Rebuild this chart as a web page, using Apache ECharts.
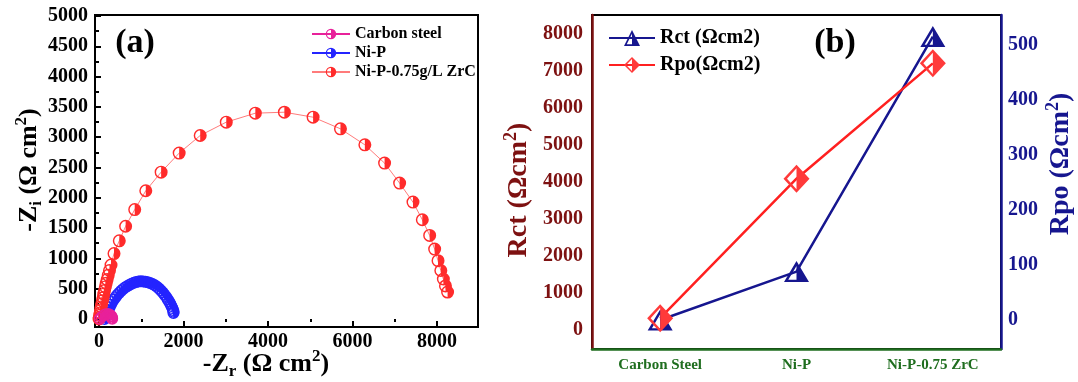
<!DOCTYPE html>
<html><head><meta charset="utf-8">
<script src="https://cdn.jsdelivr.net/npm/echarts@6/dist/echarts.min.js"></script>
<style>html,body{margin:0;padding:0;background:#fff}#c{width:1078px;height:382px}</style>
</head><body><div id="c"></div>
<script>
// ---------- Panel (a): Nyquist data  [-Zr, -Zi] ----------
const carbonSteel = [[20,5],[60,35],[110,62],[165,80],[220,82],[265,68],[295,45],[310,20],[312,5]];
const niP = [[130,0],[150,35],[170,70],[195,110],[220,150],[250,195],[280,235],[315,280],[350,320],[390,360],[430,395],[475,430],[520,462],[565,490],[615,518],[665,542],[715,562],[770,582],[825,598],[880,610],[935,618],[990,621],[1045,620],[1100,615],[1155,607],[1210,595],[1265,578],[1320,556],[1370,532],[1420,503],[1465,472],[1510,438],[1550,402],[1590,365],[1625,327],[1658,290],[1688,252],[1712,215],[1735,180],[1752,148],[1765,120],[1762,98]];
const niPZrC = [[0,0],[8,25],[16,60],[26,100],[38,150],[50,200],[64,250],[80,300],[96,350],[112,410],[130,470],[150,530],[170,590],[192,650],[218,720],[248,800],[284,890],[355,1080],[480,1290],[630,1530],[845,1805],[1107,2116],[1470,2423],[1897,2737],[2395,3028],[3012,3248],[3700,3396],[4387,3412],[5067,3330],[5715,3138],[6292,2874],[6759,2572],[7115,2242],[7431,1929],[7652,1638],[7826,1379],[7944,1154],[8024,962],[8090,800],[8150,660],[8200,545],[8250,445]];
const aXTicks = [0,2000,4000,6000,8000];
const aXMinor = [1000,3000,5000,7000];
const aYTicks = [0,500,1000,1500,2000,2500,3000,3500,4000,4500,5000];
const aYMinor = [250,750,1250,1750,2250,2750,3250,3750,4250,4750];

// ---------- Panel (b) ----------
const categories = ['Carbon Steel','Ni-P','Ni-P-0.75 ZrC'];
const rct = [270, 1578, 7930];
const rpo = [3, 257, 467];
const bLTicks = [0,1000,2000,3000,4000,5000,6000,7000,8000];
const bLMinor = [500,1500,2500,3500,4500,5500,6500,7500];
const bRTicks = [0,100,200,300,400,500];
const bRMinor = [50,150,250,350,450];

const FF = 'Liberation Serif';
const halfCircle = 'path://M0,10A10,10 0 1,1 20,10A10,10 0 1,1 0,10Z M2.2,10A7.8,7.8 0 1,0 17.8,10A7.8,7.8 0 1,0 2.2,10Z M10,2.2A7.8,7.8 0 0,1 10,17.8Z';
const halfTri = 'path://M10,0L20,18L0,18Z M10,4.1L3.4,16L16.6,16Z M10,4.1L16.6,16L10,16Z';
const halfDia = 'path://M10,0L20,11L10,22L0,11Z M10,2.7L2.7,11L10,19.3L17.3,11Z M10,2.7L17.3,11L10,19.3Z';

const DARKRED = '#7d1111', NAVY = '#16168f', GREEN = '#1f6e1f';
const plain = v => String(v);

function valAxis(o) {
  return Object.assign({
    type: 'value', splitLine: {show: false},
    axisLine: {show: true, onZero: false, lineStyle: {color: '#000', width: 2}},
  }, o);
}

const chart = echarts.init(document.getElementById('c'), null, {renderer: 'canvas'});
chart.setOption({
  backgroundColor: '#fff',
  animation: false,
  grid: [
    {left: 95, right: 600, top: 15, bottom: 55, show: true, borderColor: '#000', borderWidth: 2, backgroundColor: 'transparent'},
    {left: 592, right: 77, top: 15, bottom: 33, show: true, borderColor: '#000', borderWidth: 2, backgroundColor: 'transparent'}
  ],
  xAxis: [
    valAxis({gridIndex: 0, min: -95, max: 8970,
      axisTick: {inside: true, length: 6, customValues: aXTicks, lineStyle: {color: '#000', width: 2}},
      axisLabel: {customValues: aXTicks, formatter: plain, margin: 5, color: '#000', fontFamily: FF, fontWeight: 'bold', fontSize: 20}}),
    valAxis({gridIndex: 0, min: -95, max: 8970, axisLine: {show: false},
      axisTick: {inside: true, length: 3, customValues: aXMinor, lineStyle: {color: '#000', width: 2}},
      axisLabel: {show: false}}),
    {type: 'category', gridIndex: 1, data: categories, boundaryGap: true,
      axisLine: {onZero: false, lineStyle: {color: GREEN, width: 2.5}},
      axisTick: {alignWithLabel: true, length: 5, lineStyle: {color: GREEN, width: 2}},
      axisLabel: {color: GREEN, fontFamily: FF, fontWeight: 'bold', fontSize: 15, margin: 9}}
  ],
  yAxis: [
    valAxis({gridIndex: 0, min: -132, max: 5016,
      axisTick: {inside: true, length: 6, customValues: aYTicks, lineStyle: {color: '#000', width: 2}},
      axisLabel: {customValues: aYTicks, formatter: plain, margin: 7, color: '#000', fontFamily: FF, fontWeight: 'bold', fontSize: 20}}),
    valAxis({gridIndex: 0, min: -132, max: 5016, axisLine: {show: false},
      axisTick: {inside: true, length: 3, customValues: aYMinor, lineStyle: {color: '#000', width: 2}},
      axisLabel: {show: false}}),
    valAxis({gridIndex: 1, position: 'left', min: -514, max: 8514,
      axisLine: {show: true, onZero: false, lineStyle: {color: DARKRED, width: 2.5}},
      axisTick: {inside: true, length: 6, customValues: bLTicks, lineStyle: {color: DARKRED, width: 2}},
      axisLabel: {customValues: bLTicks, formatter: plain, margin: 9, color: DARKRED, fontFamily: FF, fontWeight: 'bold', fontSize: 20}}),
    valAxis({gridIndex: 1, position: 'left', min: -514, max: 8514, axisLine: {show: false},
      axisTick: {inside: true, length: 3, customValues: bLMinor, lineStyle: {color: DARKRED, width: 2}},
      axisLabel: {show: false}}),
    valAxis({gridIndex: 1, position: 'right', min: -53, max: 555,
      axisLine: {show: true, onZero: false, lineStyle: {color: NAVY, width: 2.5}},
      axisTick: {inside: true, length: 6, customValues: bRTicks, lineStyle: {color: NAVY, width: 2}},
      axisLabel: {customValues: bRTicks, formatter: plain, margin: 7, color: NAVY, fontFamily: FF, fontWeight: 'bold', fontSize: 20}}),
    valAxis({gridIndex: 1, position: 'right', min: -53, max: 555, axisLine: {show: false},
      axisTick: {inside: true, length: 3, customValues: bRMinor, lineStyle: {color: NAVY, width: 2}},
      axisLabel: {show: false}})
  ],
  legend: [
    {orient: 'vertical', left: 306, top: 21, itemWidth: 38, itemHeight: 13, itemGap: 3,
      data: ['Carbon steel','Ni-P','Ni-P-0.75g/L ZrC'],
      textStyle: {color: '#000', fontFamily: FF, fontWeight: 'bold', fontSize: 16}},
    {orient: 'vertical', left: 603, top: 23, itemWidth: 46, itemHeight: 20, itemGap: 7,
      data: ['Rct (Ωcm2)','Rpo(Ωcm2)'],
      textStyle: {color: '#000', fontFamily: FF, fontWeight: 'bold', fontSize: 20}}
  ],
  series: [
    {name: 'Ni-P', type: 'line', xAxisIndex: 0, yAxisIndex: 0, data: niP,
      symbol: halfCircle, symbolSize: 12, itemStyle: {color: '#2424ff'},
      lineStyle: {color: '#2424ff', width: 1}},
    {name: 'Ni-P-0.75g/L ZrC', type: 'line', xAxisIndex: 0, yAxisIndex: 0, data: niPZrC,
      symbol: halfCircle, symbolSize: 13, itemStyle: {color: '#ff2b2b'},
      lineStyle: {color: '#ff7b7b', width: 1}},
    {name: 'Carbon steel', type: 'line', xAxisIndex: 0, yAxisIndex: 0, data: carbonSteel,
      symbol: halfCircle, symbolSize: 12, itemStyle: {color: '#e8219a'},
      lineStyle: {color: '#e8219a', width: 1}},
    {name: 'Rct (Ωcm2)', type: 'line', xAxisIndex: 2, yAxisIndex: 2, data: rct,
      symbol: halfTri, symbolSize: [25, 21], itemStyle: {color: NAVY},
      lineStyle: {color: NAVY, width: 2.5}},
    {name: 'Rpo(Ωcm2)', type: 'line', xAxisIndex: 2, yAxisIndex: 4, data: rpo,
      symbol: halfDia, symbolSize: [26, 28], itemStyle: {color: '#ff3a3a'},
      lineStyle: {color: '#ff2020', width: 2.5}}
  ],
  graphic: [
    {type: 'text', x: 135, y: 43, style: {text: '(a)', font: 'bold 34px "Liberation Serif"', fill: '#000', align: 'center', verticalAlign: 'middle'}},
    {type: 'text', x: 835, y: 43, style: {text: '(b)', font: 'bold 34px "Liberation Serif"', fill: '#000', align: 'center', verticalAlign: 'middle'}},
    {type: 'text', x: 29, y: 170, rotation: Math.PI / 2, style: {
      text: '{a|-Z}{s|i}{a| (Ω cm}{p|2}{a|)}', align: 'center', verticalAlign: 'middle',
      rich: {
        a: {fontFamily: FF, fontWeight: 'bold', fontSize: 26, lineHeight: 32, fill: '#000'},
        s: {fontFamily: FF, fontWeight: 'bold', fontSize: 17, lineHeight: 17, verticalAlign: 'bottom', fill: '#000'},
        p: {fontFamily: FF, fontWeight: 'bold', fontSize: 17, lineHeight: 17, verticalAlign: 'top', fill: '#000'}
      }}},
    {type: 'text', x: 266, y: 364, style: {
      text: '{a|-Z}{s|r}{a| (Ω cm}{p|2}{a|)}', align: 'center', verticalAlign: 'middle',
      rich: {
        a: {fontFamily: FF, fontWeight: 'bold', fontSize: 26, lineHeight: 32, fill: '#000'},
        s: {fontFamily: FF, fontWeight: 'bold', fontSize: 17, lineHeight: 17, verticalAlign: 'bottom', fill: '#000'},
        p: {fontFamily: FF, fontWeight: 'bold', fontSize: 17, lineHeight: 17, verticalAlign: 'top', fill: '#000'}
      }}},
    {type: 'text', x: 519, y: 190, rotation: Math.PI / 2, style: {
      text: '{a|Rct (Ωcm}{p|2}{a|)}', align: 'center', verticalAlign: 'middle',
      rich: {
        a: {fontFamily: FF, fontWeight: 'bold', fontSize: 28, lineHeight: 34, fill: DARKRED},
        p: {fontFamily: FF, fontWeight: 'bold', fontSize: 18, lineHeight: 18, verticalAlign: 'top', fill: DARKRED}
      }}},
    {type: 'text', x: 1061, y: 164, rotation: Math.PI / 2, style: {
      text: '{a|Rpo (Ωcm}{p|2}{a|)}', align: 'center', verticalAlign: 'middle',
      rich: {
        a: {fontFamily: FF, fontWeight: 'bold', fontSize: 28, lineHeight: 34, fill: NAVY},
        p: {fontFamily: FF, fontWeight: 'bold', fontSize: 18, lineHeight: 18, verticalAlign: 'top', fill: NAVY}
      }}}
  ]
});
</script></body></html>
